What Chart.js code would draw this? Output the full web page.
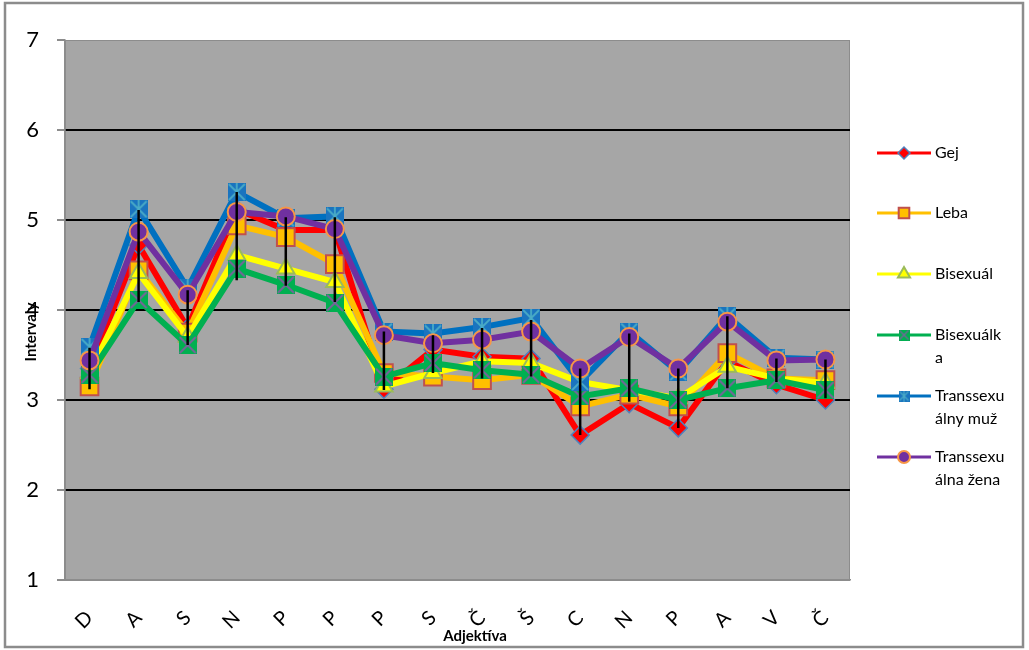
<!DOCTYPE html>
<html>
<head>
<meta charset="utf-8">
<script src="https://cdn.jsdelivr.net/npm/chart.js@4"></script>
<style>
  body { margin: 0; background: #fff; }
  #wrap { width: 1029px; height: 650px; }
</style>
</head>
<body>
<div id="wrap"><canvas id="chart" width="1029" height="650"></canvas></div>
<script>
const categories = ["D", "A", "S", "N", "P", "P", "P", "S", "Č", "Š", "C", "N", "P", "A", "V", "Č"];
const yTicks = [1, 2, 3, 4, 5, 6, 7];

const gej        = [3.35, 4.72, 3.80, 5.12, 4.89, 4.89, 3.12, 3.56, 3.48, 3.46, 2.61, 2.96, 2.69, 3.43, 3.17, 3.00];
const leba       = [3.15, 4.44, 3.75, 4.94, 4.81, 4.51, 3.30, 3.26, 3.22, 3.28, 2.93, 3.06, 2.93, 3.52, 3.24, 3.22];
const bisexual   = [3.30, 4.41, 3.70, 4.61, 4.46, 4.31, 3.15, 3.30, 3.43, 3.41, 3.20, 3.11, 3.02, 3.37, 3.24, 3.19];
const bisexualka = [3.28, 4.11, 3.61, 4.46, 4.28, 4.08, 3.26, 3.41, 3.33, 3.28, 3.04, 3.13, 3.00, 3.13, 3.22, 3.11];
const transMuz   = [3.59, 5.12, 4.24, 5.31, 5.02, 5.04, 3.76, 3.74, 3.81, 3.91, 3.20, 3.76, 3.31, 3.93, 3.47, 3.45];
const transZena  = [3.44, 4.87, 4.17, 5.09, 5.04, 4.90, 3.72, 3.63, 3.67, 3.76, 3.35, 3.70, 3.35, 3.87, 3.44, 3.45];

// black vertical bars at each category
const barHigh = [3.58, 5.11, 4.22, 5.31, 5.03, 5.03, 3.76, 3.72, 3.80, 3.89, 3.35, 3.74, 3.35, 3.93, 3.46, 3.45];
const barLow  = [3.12, 4.09, 3.61, 4.33, 4.27, 4.09, 3.11, 3.30, 3.24, 3.26, 2.61, 2.98, 2.69, 3.13, 3.20, 3.02];

const seriesNames = [["Gej"], ["Leba"], ["Bisexuál"], ["Bisexuálk", "a"], ["Transsexu", "álny muž"], ["Transsexu", "álna žena"]];

const FONT = "Lato, 'Open Sans', sans-serif";

// square markers with a cross / star drawn inside
function boxMarker(size, fill, stroke, star) {
  const c = document.createElement("canvas");
  c.width = size; c.height = size;
  const g = c.getContext("2d");
  g.fillStyle = fill;
  g.fillRect(0, 0, size, size);
  g.strokeStyle = stroke;
  g.lineWidth = Math.max(1.2, size / 10);
  g.beginPath();
  g.moveTo(1, 1); g.lineTo(size - 1, size - 1);
  g.moveTo(size - 1, 1); g.lineTo(1, size - 1);
  if (star) { g.moveTo(size / 2, 0); g.lineTo(size / 2, size); }
  g.stroke();
  return c;
}

const greenBox = boxMarker(18, "#00b050", "#7f5fa0", false);
const blueBox = boxMarker(18, "#1a74bf", "#4bacc6", true);
const greenBoxSm = boxMarker(11, "#00b050", "#7f5fa0", false);
const blueBoxSm = boxMarker(11, "#1a74bf", "#4bacc6", true);

const styles = [
  { line: "#ff0000", fill: "#ff0000", border: "#4f81bd", point: "rectRot", r: 9, lr: 6, bw: 1.5 },
  { line: "#ffc000", fill: "#ffc000", border: "#c0504d", point: "rect", r: 12.5, lr: 7.5, bw: 2 },
  { line: "#ffff00", fill: "#ffff00", border: "#9bbb59", point: "triangle", r: 10, lr: 7, bw: 2 },
  { line: "#00b050", fill: "#00b050", border: "#00b050", point: greenBox, lp: greenBoxSm, r: 9, bw: 0 },
  { line: "#0070c0", fill: "#0070c0", border: "#0070c0", point: blueBox, lp: blueBoxSm, r: 9, bw: 0 },
  { line: "#7030a0", fill: "#7030a0", border: "#f79646", point: "circle", r: 9, lr: 6, bw: 2 },
];

const values = [gej, leba, bisexual, bisexualka, transMuz, transZena];

const datasets = values.map((v, i) => ({
  label: seriesNames[i].join(""),
  data: v,
  borderColor: styles[i].line,
  borderWidth: 6,
  backgroundColor: styles[i].fill,
  pointStyle: styles[i].point,
  pointRadius: styles[i].r,
  pointBackgroundColor: styles[i].fill,
  pointBorderColor: styles[i].border,
  pointBorderWidth: styles[i].bw,
  tension: 0,
  order: values.length - i,
}));

const frame = {
  id: "frame",
  beforeDraw(chart) {
    const { ctx, chartArea: a } = chart;
    ctx.save();
    ctx.fillStyle = "#ffffff";
    ctx.fillRect(0, 0, chart.width, chart.height);
    ctx.strokeStyle = "#8c8c8c";
    ctx.lineWidth = 2.5;
    ctx.strokeRect(5, 3, 1018, 644);
    ctx.fillStyle = "#a6a6a6";
    ctx.fillRect(a.left, a.top, a.right - a.left, a.bottom - a.top);
    ctx.strokeStyle = "#8c8c8c";
    ctx.lineWidth = 1;
    ctx.strokeRect(a.left + 0.5, a.top + 0.5, a.right - a.left - 1, a.bottom - a.top);
    ctx.restore();
  },
  afterDatasetsDraw(chart) {
    const { ctx, scales: { x, y } } = chart;
    ctx.save();
    ctx.strokeStyle = "#000";
    ctx.lineWidth = 2.5;
    ctx.beginPath();
    categories.forEach((c, i) => {
      const px = x.getPixelForValue(i);
      ctx.moveTo(px, y.getPixelForValue(barHigh[i]));
      ctx.lineTo(px, y.getPixelForValue(barLow[i]));
    });
    ctx.stroke();
    ctx.restore();
  },
  afterDraw(chart) {
    const { ctx } = chart;
    ctx.save();
    // axis titles
    ctx.fillStyle = "#000";
    ctx.font = "bold 15px " + FONT;
    ctx.textAlign = "center";
    ctx.textBaseline = "middle";
    ctx.fillText("Adjektíva", 475, 636);
    ctx.save();
    ctx.translate(31, 332);
    ctx.rotate(-Math.PI / 2);
    ctx.fillText("Intervaly", 0, 0);
    ctx.restore();

    // legend
    const rows = [153, 213, 274, 335, 396, 457];
    ctx.font = "16px " + FONT;
    ctx.textAlign = "left";
    rows.forEach((ly, i) => {
      const s = styles[i];
      ctx.strokeStyle = s.line;
      ctx.lineWidth = 3;
      ctx.beginPath();
      ctx.moveTo(877, ly);
      ctx.lineTo(931, ly);
      ctx.stroke();
      if (s.lp) {
        ctx.drawImage(s.lp, 904 - s.lp.width / 2, ly - s.lp.height / 2);
      } else {
        ctx.fillStyle = s.fill;
        ctx.strokeStyle = s.border;
        ctx.lineWidth = s.bw;
        Chart.helpers.drawPoint(ctx, { pointStyle: s.point, radius: s.lr, borderWidth: s.bw, rotation: 0 }, 904, ly);
      }
      ctx.fillStyle = "#000";
      seriesNames[i].forEach((t, k) => ctx.fillText(t, 935, ly + k * 23));
    });
    ctx.restore();
  },
};

new Chart(document.getElementById("chart"), {
  type: "line",
  data: { labels: categories, datasets },
  options: {
    responsive: false,
    animation: false,
    events: [],
    layout: { padding: { left: 7, right: 179, top: 40, bottom: 0 } },
    plugins: { legend: { display: false }, tooltip: { enabled: false } },
    scales: {
      x: {
        offset: true,
        grid: { display: false, drawTicks: false },
        border: { display: true, color: "#8c8c8c", width: 1.5 },
        ticks: { color: "#000", font: { family: FONT, size: 20 }, minRotation: 45, maxRotation: 45, padding: 26, autoSkip: false },
        afterFit: (s) => { s.height = 70; },
      },
      y: {
        min: yTicks[0],
        max: yTicks[yTicks.length - 1],
        afterBuildTicks: (s) => { s.ticks = yTicks.map((v) => ({ value: v })); },
        grid: {
          color: (c) => (c.tick && c.tick.value > 1 && c.tick.value < 7 ? "#000" : "rgba(0,0,0,0)"),
          lineWidth: 2,
          tickColor: "#8c8c8c",
          tickLength: 8,
        },
        border: { display: true, color: "#8c8c8c", width: 1.5 },
        ticks: { color: "#000", font: { family: FONT, size: 22 }, padding: 18 },
        afterFit: (s) => { s.width = 58; },
      },
    },
  },
  plugins: [frame],
});
</script>
</body>
</html>
